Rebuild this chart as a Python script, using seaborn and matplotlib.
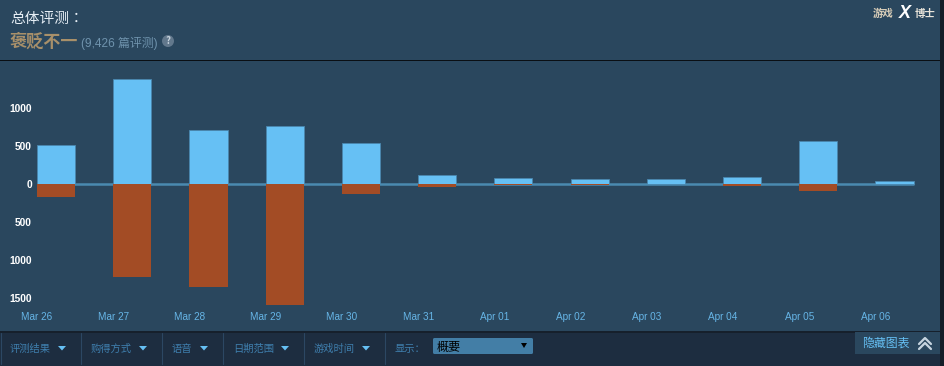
import matplotlib
matplotlib.use("Agg")
import matplotlib.pyplot as plt
import matplotlib.patches as mpatches
from matplotlib.transforms import ScaledTranslation
import pandas as pd
import seaborn as sns

# ===== data =====
dates = ["Mar 26", "Mar 27", "Mar 28", "Mar 29", "Mar 30", "Mar 31",
         "Apr 01", "Apr 02", "Apr 03", "Apr 04", "Apr 05", "Apr 06"]
positive = [513, 1380, 710, 760, 540, 118, 70, 67, 57, 90, 565, 38]
negative = [-170, -1225, -1355, -1590, -140, -40, -20, -20, 0, -30, -90, -5]
ytick_values = [1000, 500, 0, -500, -1000, -1500]
ytick_labels = ["1000", "500", "0", "500", "1000", "1500"]
menu_labels = ["评测结果", "购得方式", "语音", "日期范围", "游戏时间"]

BLUE = "#66c0f4"
BROWN = "#a34c25"
PANEL = "#2a475e"
CJK = ["Noto Sans CJK SC", "DejaVu Sans"]
LATIN = ["Liberation Sans", "Noto Sans CJK SC", "DejaVu Sans"]

W, H = 944, 366
sns.set_theme(style="white")
plt.rcParams["font.family"] = CJK

fig = plt.figure(figsize=(W / 100, H / 100), dpi=100, facecolor="#1b2838")

# ===== background, pixel coords =====
bg = fig.add_axes([0, 0, 1, 1], zorder=0)
bg.set_xlim(0, W)
bg.set_ylim(H, 0)
bg.axis("off")
bg.add_patch(mpatches.Rectangle((0, 0), 940, 332, color=PANEL, lw=0))
bg.add_patch(mpatches.Rectangle((0, 60), 940, 1.2, color="#0a0f14", lw=0))
bg.add_patch(mpatches.Rectangle((0, 331), 940, 2, color="#16202c", lw=0))
bg.add_patch(mpatches.Rectangle((0, 333), 940, 33, color="#1d2d40", lw=0))
bg.add_patch(mpatches.Rectangle((940, 0), 4, H, color="#141d28", lw=0))

# ===== chart =====
ax = fig.add_axes([0, (H - 332) / H, 1, (332 - 61) / H], zorder=1)
ax.patch.set_alpha(0)
df = pd.DataFrame({"date": dates, "up": positive, "down": negative})
ax.hlines(0, -0.25, 11.25, color="#4a8ab0", lw=1.8, zorder=1)
sns.barplot(data=df, x="date", y="up", color=BLUE, saturation=1, width=0.5, ax=ax,
            edgecolor="#4a86ad", linewidth=0.6, zorder=2)
sns.barplot(data=df, x="date", y="down", color=BROWN, saturation=1, width=0.5, ax=ax,
            edgecolor=BROWN, linewidth=0, zorder=2)
ax.set_xlim(-0.735, 11.65)
ax.set_ylim((183.7 - 332) / 0.076, (183.7 - 61) / 0.076)
ax.set_xlabel("")
ax.set_ylabel("")
for s in ax.spines.values():
    s.set_visible(False)
ax.set_yticks(ytick_values)
ax.set_yticklabels(ytick_labels)
ax.tick_params(axis="y", length=0, pad=-23, labelsize=7.4, labelcolor="white")
ax.tick_params(axis="x", length=0, pad=-14.5, labelsize=7.2, labelcolor="#66b5e6")
for t in ax.get_yticklabels():
    t.set_family(LATIN)
    t.set_fontweight("bold")
# date labels sit at the left edge of each bar in the reference
shift = ScaledTranslation(-19 / 100, 0, fig.dpi_scale_trans)
for t in ax.get_xticklabels():
    t.set_family(LATIN)
    t.set_transform(t.get_transform() + shift)

# ===== header and footer, pixel coords =====
ui = fig.add_axes([0, 0, 1, 1], zorder=2)
ui.set_xlim(0, W)
ui.set_ylim(H, 0)
ui.axis("off")
ui.text(10, 19, "总体评测：", color="#e6eef5", fontsize=10.6, va="center",
        family=["Noto Sans CJK TC", "DejaVu Sans"])
ui.text(10, 42, "褒贬不一", color="#a8906a", fontsize=12.3, fontweight="bold", va="center")
ui.text(81, 43, "(9,426 篇评测)", color="#6f93ad", fontsize=8.6, va="center", family=LATIN)
ui.add_patch(mpatches.Circle((168, 41), 6, color="#62788c", lw=0))
ui.text(168, 41, "?", color="#c8d4de", fontsize=7, fontweight="bold", ha="center", va="center")

# logo
ui.text(883, 14, "游戏", color="#d8cdb8", fontsize=7.5, fontweight="bold", ha="center", va="center")
ui.text(925, 14, "博士", color="#e8e4da", fontsize=7.5, fontweight="bold", ha="center", va="center")
ui.text(905, 14, "X", color="white", fontsize=13, fontweight="bold", style="italic",
        ha="center", va="center", family=LATIN)

# footer menu
menu_x = [10, 91, 172, 233, 314]
arrow_x = [62, 143, 204, 285, 366]
sep_x = [1, 81, 162, 223, 304, 385]
for x in sep_x:
    ui.plot([x, x], [333, 364], color="#2c4763", lw=0.8)
for label, x, ax_ in zip(menu_labels, menu_x, arrow_x):
    ui.text(x, 349, label, color="#3f7fae", fontsize=7.4, va="center")
    ui.add_patch(mpatches.Polygon([(ax_ - 4, 346), (ax_ + 4, 346), (ax_, 350.5)], color=BLUE, lw=0))
ui.text(395, 349, "显示：", color="#3f7fae", fontsize=7.4, va="center")
ui.add_patch(mpatches.FancyBboxPatch((433, 338), 100, 16, boxstyle="round,pad=0,rounding_size=1.5",
                                     color="#437ea6", lw=0))
ui.text(437, 347, "概要", color="black", fontsize=8.7, va="center")
ui.add_patch(mpatches.Polygon([(521, 343), (527, 343), (524, 348)], color="black", lw=0))

ui.add_patch(mpatches.Rectangle((855, 332), 85, 22, color="#2a475e", lw=0))
ui.text(862, 343, "隐藏图表", color=BLUE, fontsize=8.6, va="center")
for dy in (0, 5):
    ui.plot([919, 925, 931], [344 + dy, 338 + dy, 344 + dy], color="#c6d4df", lw=1.6)

fig.savefig("out.png", dpi=100, facecolor=fig.get_facecolor())
